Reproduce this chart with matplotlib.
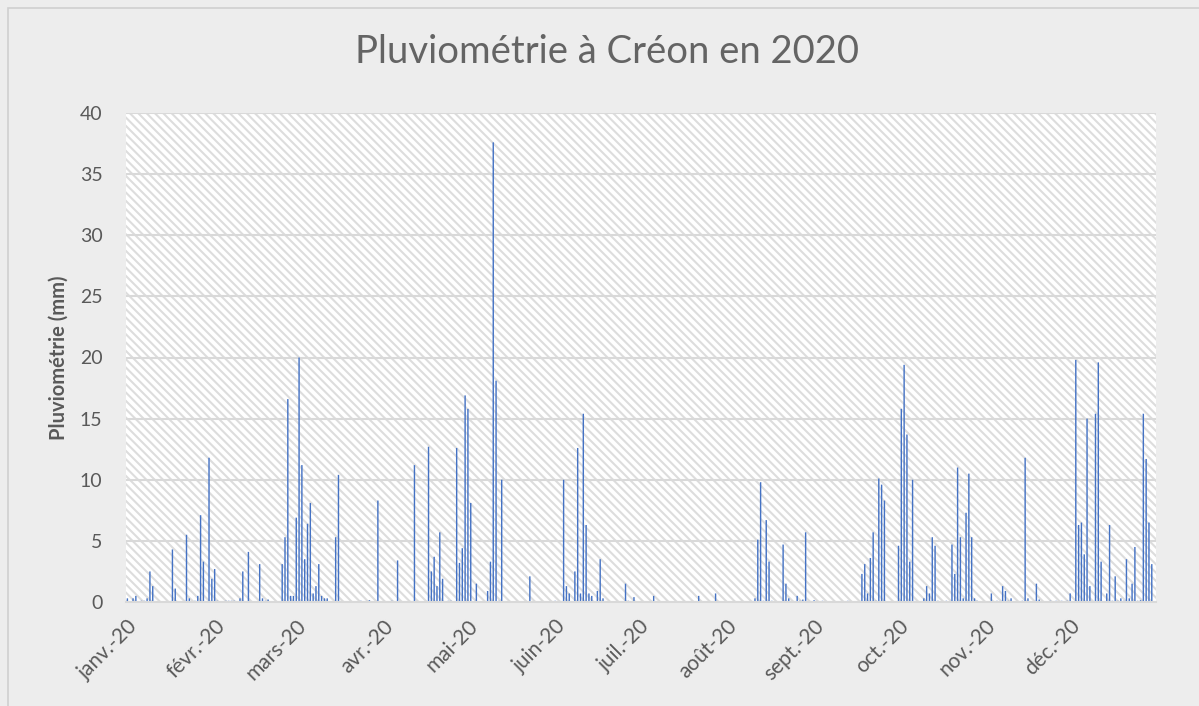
import numpy as np
import pandas as pd
import matplotlib
matplotlib.use("Agg")
import matplotlib.pyplot as plt
from matplotlib.patches import Rectangle

# jour de l'annee (0 = 1er janvier 2020) et pluie du jour en mm
jours = [0, 2, 3, 5, 6, 7, 8, 9, 16, 17, 21, 22, 24, 25, 26, 27, 29, 30, 31, 32,
         35, 36, 37, 38, 40, 41, 43, 47, 48, 49, 50, 55, 56, 57, 58, 59, 60, 61,
         62, 63, 64, 65, 66, 67, 68, 69, 70, 71, 74, 75, 83, 86, 89, 94, 96, 102,
         107, 108, 109, 110, 111, 112, 114, 115, 117, 118, 119, 120, 121, 122,
         124, 128, 129, 130, 131, 132, 133, 143, 152, 155, 156, 157, 159, 160,
         161, 162, 163, 164, 165, 167, 168, 169, 177, 178, 180,
         187, 203, 209, 223, 224, 225, 226, 227, 228, 229, 233, 234, 235, 238,
         239, 240, 241, 244,
         247, 256, 261, 262, 263, 264, 265, 266, 267, 268, 269, 274, 275, 276,
         277, 278, 279, 283, 284, 285, 286, 287, 288, 291, 293, 294, 295, 296,
         297, 298, 299, 300, 301, 302, 307,
         309, 311, 312, 313, 314, 318, 319, 320, 323, 324, 328, 330, 332, 334,
         335, 337, 338, 339, 340, 341, 342, 344, 345, 346, 348, 349, 350, 351,
         352, 353, 354, 355, 356, 357, 358, 359, 360, 361, 362, 363, 364]
pluie = [0.3, 0.3, 0.5, 0.1, 0.1, 0.3, 2.5, 1.3, 4.3, 1.1, 5.5, 0.3, 0.1, 0.5, 7.1, 3.3, 11.8, 1.9, 2.7, 0.1,
         0.1, 0.1, 0.1, 0.1, 0.3, 2.5, 4.1, 3.1, 0.3, 0.1, 0.2, 3.1, 5.3, 16.6, 0.5, 0.5, 6.9, 20.0,
         11.2, 3.5, 6.4, 8.1, 0.7, 1.3, 3.1, 0.5, 0.3, 0.3, 5.3, 10.4, 0.1, 0.15, 8.3, 0.1, 3.4, 11.2,
         12.7, 2.5, 3.7, 1.3, 5.7, 1.9, 0.1, 0.1, 12.6, 3.2, 4.4, 16.9, 15.8, 8.1,
         1.5, 0.9, 3.3, 37.6, 18.1, 0.1, 10.0, 2.1, 0.1, 10.0, 1.3, 0.7, 2.5, 12.6,
         0.7, 15.4, 6.3, 0.7, 0.5, 0.9, 3.5, 0.3, 1.5, 0.1, 0.4,
         0.5, 0.5, 0.7, 0.3, 5.1, 9.8, 0.1, 6.7, 3.3, 0.1, 4.7, 1.5, 0.3, 0.5,
         0.1, 0.2, 5.7, 0.15,
         0.1, 0.1, 2.3, 3.1, 0.7, 3.6, 5.7, 0.1, 10.1, 9.6, 8.3, 4.6, 15.8, 19.4,
         13.7, 3.3, 10.0, 0.3, 1.3, 0.7, 5.3, 4.6, 0.1, 0.1, 4.7, 2.3, 11.0, 5.3,
         0.3, 7.3, 10.5, 5.3, 0.3, 0.1, 0.7,
         0.1, 1.3, 0.9, 0.1, 0.3, 0.1, 11.8, 0.3, 1.5, 0.2, 0.1, 0.1, 0.1, 0.1,
         0.7, 19.8, 6.3, 6.5, 3.9, 15.0, 1.3, 15.4, 19.6, 3.3, 0.7, 6.3, 0.1, 2.1,
         0.1, 0.3, 0.1, 3.5, 0.3, 1.5, 4.5, 0.1, 0.15, 15.4, 11.7, 6.5, 3.1]

mois = ["janv.-20", "févr.-20", "mars-20", "avr.-20", "mai-20", "juin-20",
        "juil.-20", "août-20", "sept.-20", "oct.-20", "nov.-20", "déc.-20"]

debut = pd.Timestamp("2020-01-01")
dates = debut + pd.to_timedelta(jours, unit="D")
debuts_mois = pd.date_range("2020-01-01", periods=12, freq="MS")

plt.rcParams["font.family"] = ["Lato", "DejaVu Sans"]
plt.rcParams["hatch.linewidth"] = 1.5
gris = "#595959"

fig = plt.figure(figsize=(11.99, 7.06), dpi=100, facecolor="#EDEDED")
fig.patches.append(Rectangle((8 / 1199, -0.01), 1.0, 1.0 - 8 / 706 + 0.01,
                             transform=fig.transFigure, facecolor="none",
                             edgecolor="#D0D0D0", linewidth=1.2))
ax = fig.add_axes([126 / 1199, 1 - 602 / 706, 1030 / 1199, 489 / 706])
ax.set_facecolor("white")

# fond hachure de la zone de tracé
ax.add_patch(Rectangle((0, 0), 1, 1, transform=ax.transAxes, facecolor="white",
                       edgecolor="#DDDDDD", hatch="\\\\\\\\", linewidth=0, zorder=0))

barres = ax.bar(dates, pluie, width=0.5, color="#4472C4", linewidth=0, zorder=2)
for b in barres:
    b.set_snap(False)

ax.set_ylim(0, 40)
ax.set_yticks(np.arange(0, 41, 5))
ax.set_xlim(debut - pd.Timedelta(hours=12), pd.Timestamp("2020-12-31 12:00"))
ax.set_xticks(debuts_mois)
ax.set_xticklabels(mois, rotation=45, ha="right", rotation_mode="anchor")
ax.yaxis.grid(True, color="#D9D9D9", linewidth=1.5, zorder=1)
ax.set_axisbelow(True)

for s in ["top", "right", "left"]:
    ax.spines[s].set_visible(False)
ax.spines["bottom"].set_color("#D9D9D9")
ax.spines["bottom"].set_linewidth(1.5)
ax.tick_params(axis="both", length=0, labelcolor=gris)
ax.tick_params(axis="y", pad=17, labelsize=14)
ax.tick_params(axis="x", pad=10, labelsize=15)

ax.set_ylabel("Pluviométrie (mm)", fontsize=14.5, fontweight="bold", color=gris, labelpad=8)
fig.text(607 / 1199, 1 - 52 / 706, "Pluviométrie à Créon en 2020", ha="center", va="center",
         fontsize=27.5, color="#646464")

plt.savefig("out.png", dpi=100, facecolor=fig.get_facecolor())
